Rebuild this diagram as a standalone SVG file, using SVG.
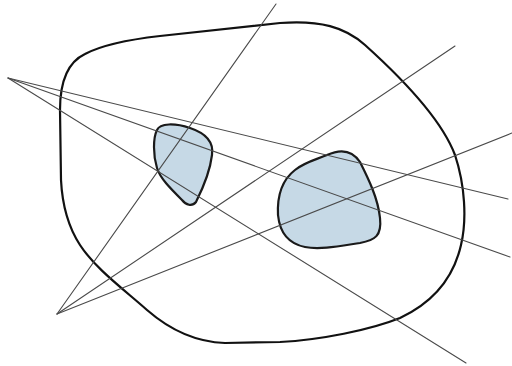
<svg xmlns="http://www.w3.org/2000/svg" width="512" height="366" viewBox="0 0 512 366">
<style>
.outer{fill:none;stroke:#111;stroke-width:2.2;stroke-linejoin:round}
.blob{fill:#c6d9e6;stroke:#1a1a1a;stroke-width:2.2;stroke-linejoin:round}
.ray{stroke:#4a4a4a;stroke-width:1.1;fill:none;stroke-linecap:round}
</style>
<rect width="512" height="366" fill="#fff"/>
<g id="outer-region">
<path class="outer" d="M60,110 C60,82 68,62 85,54 C100,46 125,40 160,36 L280,23 C320,20 345,27 365,45 C395,72 440,115 455,155 C465,185 467,220 461,245 C453,280 432,303 400,318 C370,330 320,340 280,342 L225,343 C195,342 170,330 147,310 C122,288 95,268 80,245 C67,225 62,200 61,180 Z"/>
</g>
<g id="region-a">
<path class="blob" d="M157,130 C160,123 175,123 190,128 C205,133 214,142 212,155 C210,172 202,190 196,202 C192,207 186,205 182,200 C170,188 160,178 157,168 C153,155 153,138 157,130 Z"/>
</g>
<g id="region-b">
<path class="blob" d="M327,155 C340,149 352,150 360,162 C368,178 378,198 380,218 C382,236 375,240 360,243 C340,246 320,250 305,247 C290,244 280,235 278,215 C277,195 282,180 295,170 C305,162 315,160 327,155 Z"/>
</g>
<g id="connectors">
<line class="ray" x1="8" y1="78" x2="508" y2="199"/>
<line class="ray" x1="8" y1="78" x2="510" y2="257"/>
<line class="ray" x1="8" y1="78" x2="466" y2="363"/>
<line class="ray" x1="57" y1="314" x2="276" y2="4"/>
<line class="ray" x1="57" y1="314" x2="455" y2="46"/>
<line class="ray" x1="57" y1="314" x2="512" y2="133"/>
</g>
</svg>
